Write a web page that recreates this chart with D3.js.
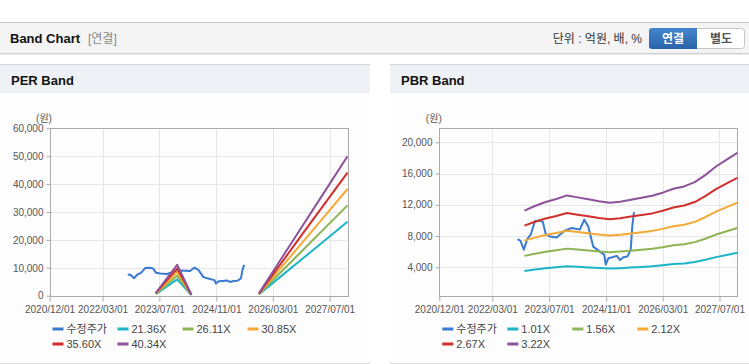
<!DOCTYPE html>
<html>
<head>
<meta charset="utf-8">
<script src="https://cdn.jsdelivr.net/npm/d3@7/dist/d3.min.js"></script>
<style>
  body { margin: 0; background: #fff; }
  svg { display: block; font-family: "Liberation Sans", Arial, "Noto Sans CJK KR", sans-serif; }
</style>
</head>
<body>
<script>
// ---- data ----
const xTickDates = ["2020-12-01","2022-03-01","2023-07-01","2024-11-01","2026-03-01","2027-07-01"];
const perYTicks = [0, 10000, 20000, 30000, 40000, 50000, 60000];
const pbrYTicks = [4000, 8000, 12000, 16000, 20000];

const priceDates = ["2022-10-03","2022-10-29","2022-11-26","2022-12-25","2023-01-25","2023-03-01","2023-04-13","2023-05-08",
  "2023-06-03","2023-07-08","2023-09-03","2023-11-13","2024-01-10","2024-03-21","2024-04-27","2024-05-31","2024-07-13",
  "2024-08-31","2024-10-16","2024-10-28","2024-11-20","2024-12-24","2025-01-31","2025-02-28","2025-03-28","2025-05-02",
  "2025-05-31","2025-06-13","2025-06-28"];
const priceValues = [7610, 7390, 6250, 7600, 8200, 9900, 10000, 9800, 8200, 7950, 7800, 8700, 9030, 8850, 10100, 9250, 6650,
  6100, 5590, 4350, 5160, 5290, 5460, 4940, 5290, 5370, 6230, 9240, 11050];

const perLabels = ["수정주가", "21.36X", "26.11X", "30.85X", "35.60X", "40.34X"];
const perBandDates = ["2023-06-01","2023-12-01","2024-04-01","2024-10-01","2025-11-01","2026-05-01","2026-11-01","2027-05-01","2027-12-01"];
const per2136 = [530, 5870, 210, null, 450, 6650, 12950, 19140, 26480];
const per2611 = [650, 7180, 260, null, 550, 8120, 15830, 23400, 32360];
const per3085 = [770, 8480, 310, null, 650, 9600, 18700, 27650, 38240];
const per3560 = [890, 9790, 360, null, 750, 11080, 21590, 31900, 44120];
const per4034 = [1010, 11090, 400, null, 850, 12550, 24460, 36150, 50000];

const pbrLabels = ["수정주가", "1.01X", "1.56X", "2.12X", "2.67X", "3.22X"];
const pbrBandDates = ["2022-12-01","2023-03-01","2023-06-01","2023-09-01","2023-12-01","2024-03-01","2024-06-01","2024-09-01",
  "2024-12-01","2025-03-01","2025-06-01","2025-09-01","2025-12-01","2026-03-01","2026-06-01","2026-09-01","2026-12-01",
  "2027-03-01","2027-06-01","2027-09-01","2027-12-01"];
const pbr101 = [3530, 3720, 3870, 4000, 4140, 4060, 3980, 3900, 3840, 3890, 3970, 4050, 4120, 4250, 4410, 4500, 4670, 4960, 5300, 5580, 5850];
const pbr156 = [5460, 5740, 5980, 6180, 6390, 6270, 6150, 6030, 5930, 6010, 6130, 6250, 6370, 6560, 6810, 6950, 7220, 7660, 8190, 8620, 9030];
const pbr212 = [7410, 7800, 8130, 8400, 8690, 8530, 8360, 8200, 8060, 8160, 8330, 8490, 8660, 8920, 9250, 9450, 9810, 10410, 11130, 11710, 12270];
const pbr267 = [9340, 9830, 10240, 10570, 10940, 10740, 10530, 10320, 10160, 10280, 10490, 10700, 10900, 11240, 11650, 11900, 12350, 13100, 14010, 14750, 15450];
const pbr322 = [11260, 11850, 12350, 12750, 13200, 12950, 12700, 12450, 12250, 12400, 12650, 12900, 13150, 13550, 14050, 14350, 14900, 15800, 16900, 17790, 18640];

const colors = ["#3a7bd2", "#1cb5c8", "#8db454", "#f4a935", "#d12f2b", "#8e519c"];

const W = 749, H = 364;
const parse = d3.timeParse("%Y-%m-%d");
const svg = d3.select("body").append("svg").attr("width", W).attr("height", H);

// ---- top bar ----
const defs = svg.append("defs");
const gBtn = defs.append("linearGradient").attr("id", "btnBlue").attr("x1", 0).attr("y1", 0).attr("x2", 0).attr("y2", 1);
gBtn.append("stop").attr("offset", "0%").attr("stop-color", "#4485cc");
gBtn.append("stop").attr("offset", "100%").attr("stop-color", "#2963a9");

svg.append("rect").attr("x", 0).attr("y", 22).attr("width", W).attr("height", 31).attr("fill", "#f4f4f4");
svg.append("line").attr("x1", 0).attr("x2", W).attr("y1", 22.5).attr("y2", 22.5).attr("stroke", "#c2c2c2");
svg.append("line").attr("x1", 0).attr("x2", W).attr("y1", 53.5).attr("y2", 53.5).attr("stroke", "#cfcfcf");
svg.append("line").attr("x1", 0).attr("x2", W).attr("y1", 54.5).attr("y2", 54.5).attr("stroke", "#ececec");

svg.append("text").attr("x", 10).attr("y", 43).attr("font-size", 13).attr("font-weight", "bold")
  .attr("fill", "#111").text("Band Chart");
svg.append("text").attr("x", 88).attr("y", 43).attr("font-size", 12).attr("fill", "#888").text("[연결]");
svg.append("text").attr("x", 642).attr("y", 43).attr("font-size", 12).attr("text-anchor", "end")
  .attr("fill", "#333").text("단위 : 억원, 배, %");

svg.append("rect").attr("x", 649.5).attr("y", 28.5).attr("width", 95).attr("height", 20).attr("rx", 3)
  .attr("fill", "#fff").attr("stroke", "#c4c4c4");
svg.append("rect").attr("x", 649).attr("y", 28).attr("width", 48).attr("height", 21).attr("rx", 3).attr("fill", "url(#btnBlue)");
svg.append("rect").attr("x", 690).attr("y", 28).attr("width", 7).attr("height", 21).attr("fill", "url(#btnBlue)");
svg.append("text").attr("x", 673).attr("y", 43).attr("font-size", 12).attr("font-weight", "bold")
  .attr("text-anchor", "middle").attr("fill", "#fff").text("연결");
svg.append("text").attr("x", 721).attr("y", 43).attr("font-size", 12).attr("font-weight", "bold")
  .attr("text-anchor", "middle").attr("fill", "#555").text("별도");

// ---- panels ----
function panel(cfg) {
  const g = svg.append("g");
  g.append("rect").attr("x", cfg.px).attr("y", 64).attr("width", cfg.pw).attr("height", 299).attr("fill", "#fdfdfd");
  g.append("rect").attr("x", cfg.px).attr("y", 64).attr("width", cfg.pw).attr("height", 29).attr("fill", "#eef2f7");
  g.append("line").attr("x1", cfg.px).attr("x2", cfg.px + cfg.pw).attr("y1", 64.5).attr("y2", 64.5).attr("stroke", "#d7d7d7");
  g.append("line").attr("x1", cfg.px).attr("x2", cfg.px + cfg.pw).attr("y1", 363.5).attr("y2", 363.5).attr("stroke", "#d7d7d7");
  g.append("text").attr("x", cfg.px + 11).attr("y", 85).attr("font-size", 13).attr("font-weight", "bold")
    .attr("fill", "#111").text(cfg.title);

  const x = d3.scaleTime().domain([parse("2020-12-01"), parse("2027-12-01")]).range([cfg.left, cfg.left + 298]);
  const y = d3.scaleLinear().domain(cfg.yDomain).range([295.7, 128.3]);
  const top = 128.3, bottom = 295.7, right = cfg.left + 298;

  // grid
  g.append("g").selectAll("line").data(cfg.yTicks).join("line")
    .attr("x1", cfg.left).attr("x2", right)
    .attr("y1", d => Math.round(y(d)) + 0.5).attr("y2", d => Math.round(y(d)) + 0.5)
    .attr("stroke", "#e6e6e6");
  g.append("g").selectAll("line").data(xTickDates).join("line")
    .attr("x1", d => Math.round(x(parse(d))) + 0.5).attr("x2", d => Math.round(x(parse(d))) + 0.5)
    .attr("y1", top).attr("y2", bottom)
    .attr("stroke", "#e6e6e6");

  // axes
  const yAxis = d3.axisLeft(y).tickValues(cfg.yTicks).tickSize(4).tickPadding(3).tickFormat(d3.format(","));
  const ya = g.append("g").attr("transform", `translate(${Math.round(cfg.left) + 0.5},0)`).call(yAxis);
  ya.select(".domain").remove();
  ya.selectAll(".tick line").attr("stroke", "#aaa");
  ya.selectAll(".tick text").attr("fill", "#555").attr("font-size", 10).style("font-family", "inherit");

  const xAxis = d3.axisBottom(x).tickValues(xTickDates.map(parse)).tickSize(5).tickPadding(4)
    .tickFormat(d3.timeFormat("%Y/%m/%d"));
  const xa = g.append("g").attr("transform", `translate(0,${Math.round(bottom) + 0.5})`).call(xAxis);
  xa.select(".domain").remove();
  xa.selectAll(".tick line").attr("stroke", "#aaa");
  xa.selectAll(".tick text").attr("fill", "#555").attr("font-size", 10).style("font-family", "inherit");

  g.append("rect").attr("x", Math.round(cfg.left) + 0.5).attr("y", Math.round(top) + 0.5)
    .attr("width", 298).attr("height", Math.round(bottom) - Math.round(top))
    .attr("fill", "none").attr("stroke", "#aaa");

  g.append("text").attr("x", cfg.left - 5.5).attr("y", 122).attr("text-anchor", "middle")
    .attr("font-size", 10).attr("fill", "#555").text("(원)");

  // series
  const line = d3.line().defined(d => d.v != null).x(d => x(d.t)).y(d => y(d.v));
  const clip = "clip" + cfg.title.replace(" ", "");
  defs.append("clipPath").attr("id", clip).append("rect")
    .attr("x", cfg.left).attr("y", top - 2).attr("width", 299).attr("height", bottom - top + 2);
  const series = g.append("g").attr("clip-path", `url(#${clip})`);
  cfg.series.forEach((s, i) => {
    const pts = s.dates.map((d, j) => ({ t: parse(d), v: s.values[j] }));
    series.append("path").datum(pts).attr("d", line).attr("fill", "none")
      .attr("stroke", colors[i]).attr("stroke-width", 2).attr("stroke-linejoin", "round");
  });

  // legend
  const cols = [0, 65, 130, 195];
  cfg.labels.forEach((lab, i) => {
    const lx = cfg.left + 3 + cols[i % 4];
    const ly = i < 4 ? 329 : 344;
    g.append("line").attr("x1", lx).attr("x2", lx + 11).attr("y1", ly).attr("y2", ly)
      .attr("stroke", colors[i]).attr("stroke-width", 3);
    g.append("text").attr("x", lx + 14).attr("y", ly + 4).attr("font-size", 11)
      .attr("fill", "#444").text(lab);
  });
}

panel({
  title: "PER Band", px: 0, pw: 370, left: 49.5,
  yDomain: [0, 60000], yTicks: perYTicks, labels: perLabels,
  series: [
    { dates: priceDates, values: priceValues },
    { dates: perBandDates, values: per2136 },
    { dates: perBandDates, values: per2611 },
    { dates: perBandDates, values: per3085 },
    { dates: perBandDates, values: per3560 },
    { dates: perBandDates, values: per4034 }
  ]
});

panel({
  title: "PBR Band", px: 390, pw: 359, left: 439.3,
  yDomain: [365, 21790], yTicks: pbrYTicks, labels: pbrLabels,
  series: [
    { dates: priceDates, values: priceValues },
    { dates: pbrBandDates, values: pbr101 },
    { dates: pbrBandDates, values: pbr156 },
    { dates: pbrBandDates, values: pbr212 },
    { dates: pbrBandDates, values: pbr267 },
    { dates: pbrBandDates, values: pbr322 }
  ]
});
</script>
</body>
</html>
